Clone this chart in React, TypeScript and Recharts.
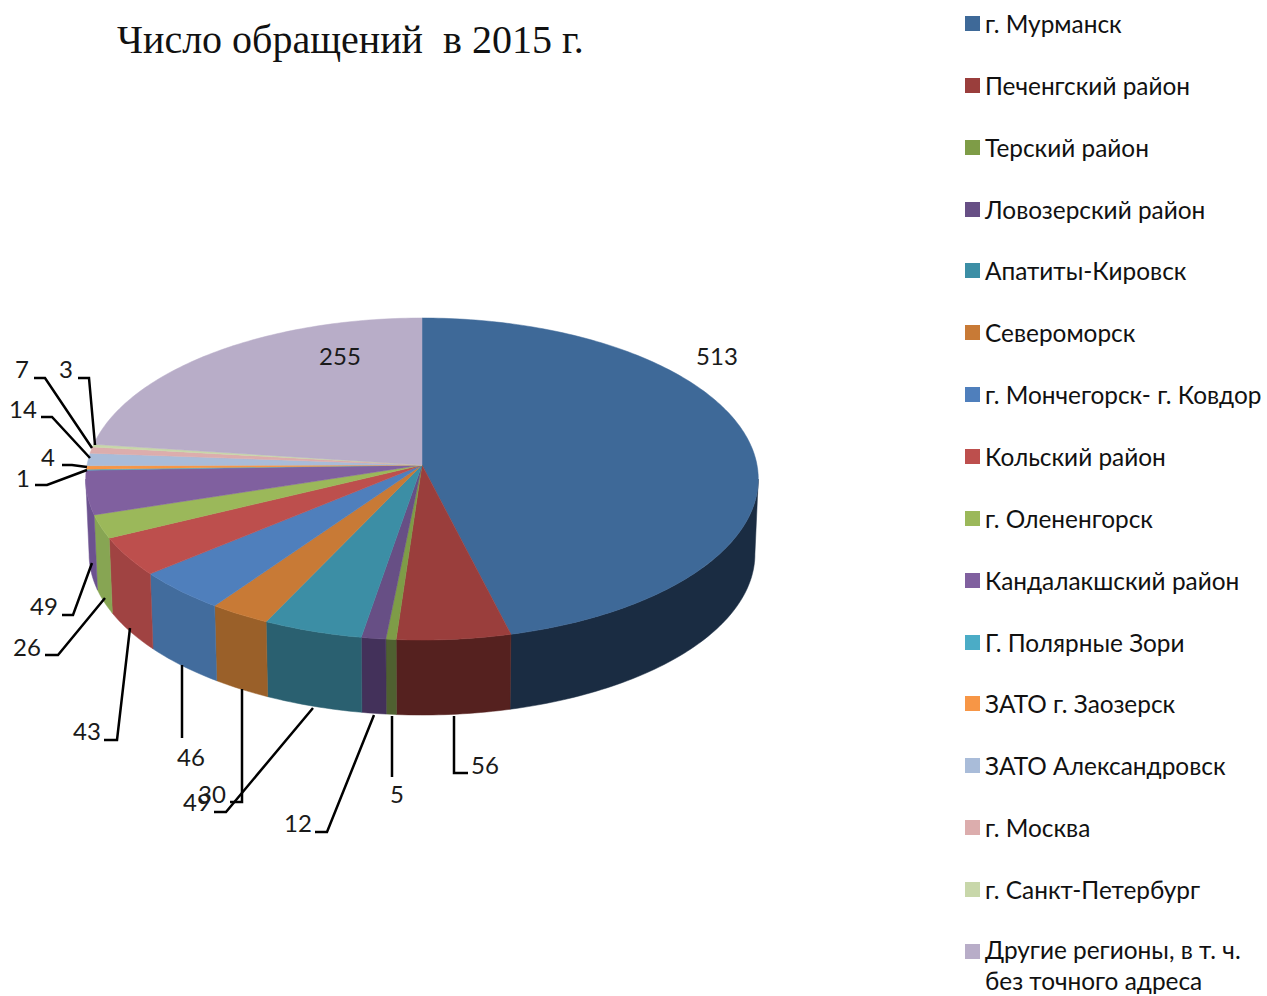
import { Pie, PieChart, Cell, Legend } from "recharts";

const CATEGORIES = [
  "г. Мурманск",
  "Печенгский район",
  "Терский район",
  "Ловозерский район",
  "Апатиты-Кировск",
  "Североморск",
  "г. Мончегорск- г. Ковдор",
  "Кольский район",
  "г. Олененгорск",
  "Кандалакшский район",
  "Г. Полярные Зори",
  "ЗАТО г. Заозерск",
  "ЗАТО Александровск",
  "г. Москва",
  "г. Санкт-Петербург",
  "Другие регионы, в т. ч. без точного адреса",
];
const VALUES = [513, 56, 5, 12, 49, 30, 46, 43, 26, 49, 1, 4, 14, 7, 3, 255];

const TOP_COLORS = [
  "#3e6998", "#9a3e3c", "#7e9c47", "#674f85", "#3c8ea5", "#c87a36", "#4f7fbc", "#bd4f4d",
  "#9bb85a", "#80609f", "#4bacc6", "#f79646", "#a9bcd9", "#dcadad", "#c8d7aa", "#b8adc8",
];
const WALL_COLORS = [
  "#1a2c42", "#55211f", "#4f6030", "#43315a", "#2a6070", "#9a6029", "#426c9d", "#a04342",
  "#87a553", "#6c5290", "#3c8ea5", "#c87a36", "#8c9db8", "#b88f8f", "#a6b38d", "#998fa6",
];

// where each value label and its leader line sit, same order as VALUES
const LABEL_SPOTS: { text: [number, number]; line?: [number, number][] }[] = [
  { text: [717, 355] },
  { text: [485, 764], line: [[454, 716], [454, 773], [468, 773]] },
  { text: [397, 793], line: [[392, 716], [392, 777]] },
  { text: [298, 822], line: [[374, 715], [327, 832], [315, 832]] },
  { text: [197, 801], line: [[313, 708], [226, 812], [214, 812]] },
  { text: [212, 793], line: [[242, 689], [242, 802], [230, 802]] },
  { text: [191, 756], line: [[182, 665], [182, 738]] },
  { text: [87, 730], line: [[130, 628], [117, 740], [104, 740]] },
  { text: [27, 646], line: [[105, 598], [58, 655], [45, 655]] },
  { text: [44, 605], line: [[92, 563], [73, 615], [62, 615]] },
  { text: [23, 477], line: [[87, 470], [47, 485], [35, 485]] },
  { text: [48, 456], line: [[87, 467], [72, 465], [62, 465]] },
  { text: [23, 408], line: [[90, 458], [52, 417], [41, 417]] },
  { text: [22, 368], line: [[92, 448], [45, 378], [34, 378]] },
  { text: [66, 368], line: [[95, 445], [89, 378], [78, 378]] },
  { text: [340, 355] },
];

const WIDTH = 1267;
const HEIGHT = 996;
const CX = 422;
const CY = 465;
const RADIUS = 335;
const FONT = "Lato, 'Open Sans', sans-serif";

// perspective of the tilted disc, angle is clockwise from the top
const TILT = 0.477;
const PERSP = 0.087;
const DEPTH = 75;

function project(deg: number, cx: number, cy: number, r: number) {
  const t = (deg * Math.PI) / 180;
  const u = Math.sin(t);
  const v = -Math.cos(t);
  const d = 1 - PERSP * v;
  return [cx + (r * u) / d, cy + (r * TILT * v) / d];
}

function arcPoints(from: number, to: number, cx: number, cy: number, r: number) {
  const pts: number[][] = [];
  const n = Math.max(2, Math.ceil(to - from) + 1);
  for (let i = 0; i < n; i++) {
    pts.push(project(from + ((to - from) * i) / (n - 1), cx, cy, r));
  }
  return pts;
}

function toPath(pts: number[][]) {
  return "M" + pts.map((p) => p[0].toFixed(2) + "," + p[1].toFixed(2)).join("L") + "Z";
}

function TopSlice(props: any) {
  const { cx, cy, outerRadius, startAngle, endAngle, fill } = props;
  const arc = arcPoints(90 - startAngle, 90 - endAngle, cx, cy, outerRadius);
  return <path d={toPath([[cx, cy], ...arc])} fill={fill} stroke={fill} strokeWidth={0.5} />;
}

function WallSlice(props: any) {
  const { cx, cy, outerRadius, startAngle, endAngle, fill } = props;
  // only the front of the rim shows
  const from = Math.max(90 - startAngle, 95);
  const to = Math.min(90 - endAngle, 265);
  if (to <= from) return null;
  const top = arcPoints(from, to, cx, cy, outerRadius);
  const bottom = top.map((p) => [cx + (p[0] - cx) * 0.99, p[1] + DEPTH]).reverse();
  return <path d={toPath([...top, ...bottom])} fill={fill} stroke={fill} strokeWidth={0.5} />;
}

function ValueLabel(props: any) {
  const spot = LABEL_SPOTS[props.index];
  return (
    <g>
      {spot.line && (
        <polyline
          points={spot.line.map((p) => p.join(",")).join(" ")}
          fill="none"
          stroke="#000"
          strokeWidth={2.5}
        />
      )}
      <text
        x={spot.text[0]}
        y={spot.text[1]}
        textAnchor="middle"
        dominantBaseline="central"
        fontFamily={FONT}
        fontSize={24}
        fill="#1a1a1a"
      >
        {props.value}
      </text>
    </g>
  );
}

function LegendList() {
  return (
    <div style={{ width: 302, fontFamily: FONT, fontSize: 24.4, color: "#111" }}>
      {CATEGORIES.map((name, i) => (
        <div key={name} style={{ display: "flex", height: i === 15 ? 62 : 61.87, lineHeight: i === 15 ? "31px" : "35px" }}>
          <span
            style={{
              flex: "none",
              width: 15,
              height: 15,
              marginTop: 10,
              marginRight: 5,
              background: TOP_COLORS[i],
            }}
          />
          <span style={{ whiteSpace: i === 15 ? "normal" : "nowrap" }}>{name}</span>
        </div>
      ))}
    </div>
  );
}

export default function App() {
  const data = CATEGORIES.map((name, i) => ({ name, value: VALUES[i] }));
  return (
    <div style={{ position: "absolute", left: 0, top: 0, width: WIDTH, height: HEIGHT, overflow: "hidden" }}>
      <div
        style={{
          position: "absolute",
          left: 117,
          top: 16,
          fontFamily: "'Liberation Serif', serif",
          fontSize: 40,
          lineHeight: "48px",
          color: "#111",
          whiteSpace: "pre",
        }}
      >
        {"Число обращений  в 2015 г."}
      </div>
      <PieChart width={WIDTH} height={HEIGHT} margin={{ top: 0, right: 0, bottom: 0, left: 0 }}>
        <Pie
          data={data}
          dataKey="value"
          nameKey="name"
          cx={CX}
          cy={CY}
          outerRadius={RADIUS}
          startAngle={90}
          endAngle={-270}
          stroke="none"
          shape={WallSlice}
          isAnimationActive={false}
        >
          {data.map((d, i) => (
            <Cell key={d.name} fill={WALL_COLORS[i]} />
          ))}
        </Pie>
        <Pie
          data={data}
          dataKey="value"
          nameKey="name"
          cx={CX}
          cy={CY}
          outerRadius={RADIUS}
          startAngle={90}
          endAngle={-270}
          stroke="none"
          shape={TopSlice}
          label={ValueLabel}
          labelLine={false}
          isAnimationActive={false}
        >
          {data.map((d, i) => (
            <Cell key={d.name} fill={TOP_COLORS[i]} />
          ))}
        </Pie>
        <Legend
          content={LegendList}
          wrapperStyle={{ position: "absolute", left: 965, top: 6, width: 302, bottom: "auto", right: "auto" }}
        />
      </PieChart>
    </div>
  );
}
